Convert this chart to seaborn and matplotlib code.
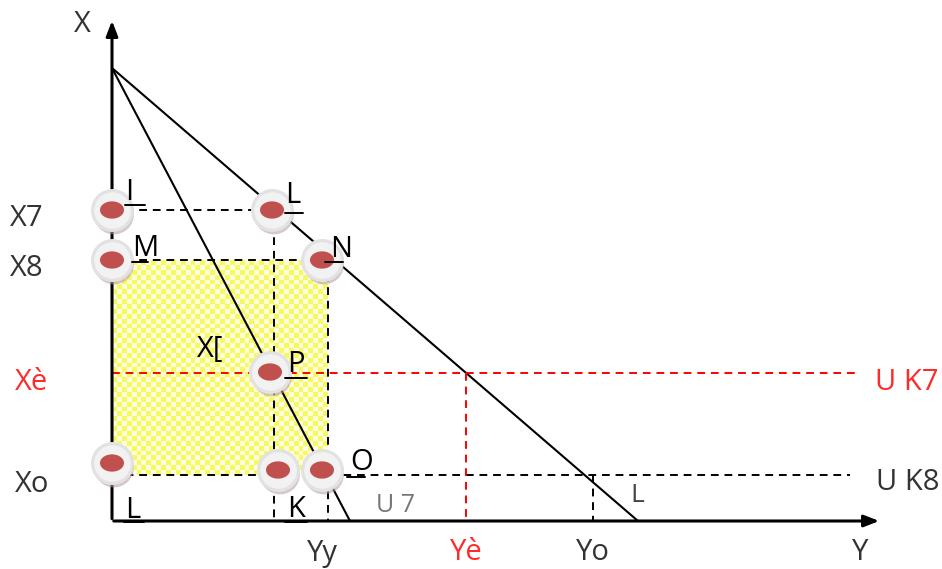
import numpy as np
import matplotlib.pyplot as plt
import seaborn as sns
import pandas as pd
from matplotlib.colors import ListedColormap

sns.set_style('white')
plt.rcParams['font.family'] = ['Open Sans', 'DejaVu Sans']

# 需求曲线与边际收益曲线 (数量, 价格)
apex_p = 45.3
demand_q0 = 52.6
mr_q0 = 23.8

# 价格水平
p_x7, p_x8, p_xe, p_xo = 31.1, 26.1, 14.8, 4.6
# 数量水平
q_yy, q_ye, q_yo = 16.2, 35.4, 48.1
q_rect = 21.6

# 圆点
dot_q = [0, 16.0, 0, 21.0, 15.8, 0, 16.6, 21.0]
dot_p = [31.1, 31.1, 26.1, 26.1, 14.9, 5.8, 5.1, 5.1]

# 点标签 (文字, 数量, 价格, 下划线起止)
pt_labels = [('I', 1.3, 32.1, (1.3, 3.3, 31.6)), ('L', 17.3, 31.8, (17.3, 19.1, 30.8)),
             ('M', 2.0, 26.5, (2.0, 3.6, 25.9)), ('N', 21.8, 26.4, (21.3, 23.1, 25.9)),
             ('P', 17.5, 14.9, (17.3, 19.5, 14.3)), ('O', 23.8, 5.1, (23.5, 25.3, 4.4)),
             ('L', 1.3, 0.3, (1.2, 3.2, -0.1)), ('K', 17.5, 0.4, (17.3, 19.5, -0.1))]

fig = plt.figure(figsize=(9.42, 5.69), dpi=100)
ax = fig.add_axes([0, 0, 1, 1])
ax.set_xlim(-11.2, 83.0)
ax.set_ylim(-4.8, 52.1)
ax.axis('off')

# 黄色方格阴影区
nx, ny = 44, 44
cb = (np.indices((ny, nx)).sum(axis=0) % 2).astype(float)
ax.imshow(cb, extent=(0, q_rect, p_xo, p_x8), cmap=ListedColormap(['#f8f860', '#fdfde0']),
          aspect='auto', interpolation='nearest', zorder=0)

# 坐标轴
arr = dict(arrowstyle='-|>,head_width=0.35,head_length=0.9', lw=2.2, color='black')
ax.annotate('', xy=(0, 50.3), xytext=(0, -0.05), arrowprops=arr)
ax.annotate('', xy=(77.0, 0), xytext=(-0.1, 0), arrowprops=arr)

# 曲线
lines = pd.DataFrame({'q': [0, demand_q0, 0, mr_q0], 'p': [apex_p, 0, apex_p, 0], 'c': ['D', 'D', 'MR', 'MR']})
sns.lineplot(data=lines, x='q', y='p', units='c', estimator=None, color='black', lw=1.5, ax=ax, sort=False)

dash = dict(color='black', lw=1.4, ls=(0, (4, 3)))
ax.plot([0, q_yy], [p_x7, p_x7], **dash)
ax.plot([q_yy, q_yy], [p_x7, 0], **dash)
ax.plot([0, q_rect], [p_x8, p_x8], **dash)
ax.plot([q_rect, q_rect], [p_x8, 0], **dash)
ax.plot([0, 73.8], [p_xo, p_xo], **dash)
ax.plot([q_yo, q_yo], [p_xo, 0], **dash)
reddash = dict(color='red', lw=1.4, ls=(0, (4, 3)))
ax.plot([0, 74.6], [p_xe, p_xe], **reddash)
ax.plot([q_ye, q_ye], [p_xe, 0], **reddash)

# 圆点
t = np.linspace(0, 2 * np.pi, 40)
ellipse = np.column_stack([np.cos(t), 0.72 * np.sin(t)])
dq = np.array(dot_q)
dp = np.array(dot_p)
sns.scatterplot(x=dq + 0.2, y=dp - 0.45, s=820, color='#b898a8', edgecolor='none', ax=ax, zorder=4, alpha=0.55)
sns.scatterplot(x=dq, y=dp, s=820, color='#f2f2f2', edgecolor='#e2e2e2', ax=ax, zorder=5)
sns.scatterplot(x=dq, y=dp, s=300, marker=ellipse, color='#c0504d', edgecolor='none', ax=ax, zorder=6)

# 标签
for txt, q, p, (u0, u1, uy) in pt_labels:
    ax.text(q, p, txt, fontsize=21, ha='left', va='baseline', color='black', zorder=7)
    ax.plot([u0, u1], [uy, uy], color='black', lw=1.4, zorder=7)
ax.text(8.5, 16.4, 'X[', fontsize=21, ha='left', va='baseline', color='black', zorder=7)

lab = dict(fontsize=21, family=['Open Sans', 'DejaVu Sans'])
red = '#ff2a2a'
ax.text(-3.0, 49.6, 'X', ha='center', va='center', color='#333333', **lab)
ax.text(-8.5, 30.3, 'X7', ha='center', va='center', color='#333333', **lab)
ax.text(-8.5, 25.3, 'X8', ha='center', va='center', color='#333333', **lab)
ax.text(-8.0, 13.9, 'Xè', ha='center', va='center', color=red, **lab)
ax.text(-8.0, 3.6, 'Xo', ha='center', va='center', color='#333333', **lab)
ax.text(21.0, -3.2, 'Yy', ha='center', va='center', color='#333333', **lab)
ax.text(35.4, -3.2, 'Yè', ha='center', va='center', color=red, **lab)
ax.text(48.1, -3.2, 'Yo', ha='center', va='center', color='#333333', **lab)
ax.text(74.8, -3.2, 'Y', ha='center', va='center', color='#333333', **lab)
ax.text(79.5, 13.8, 'U K7', ha='center', va='center', color=red, **lab)
ax.text(79.6, 3.8, 'U K8', ha='center', va='center', color='#333333', **lab)
ax.text(28.4, 1.5, 'U 7', ha='center', va='center', color='#777777', fontsize=18)
ax.text(52.5, 2.6, 'L', ha='center', va='center', color='#444444', fontsize=19)

if ax.get_legend():
    ax.get_legend().remove()

plt.savefig('out.png', dpi=100)
plt.close()
